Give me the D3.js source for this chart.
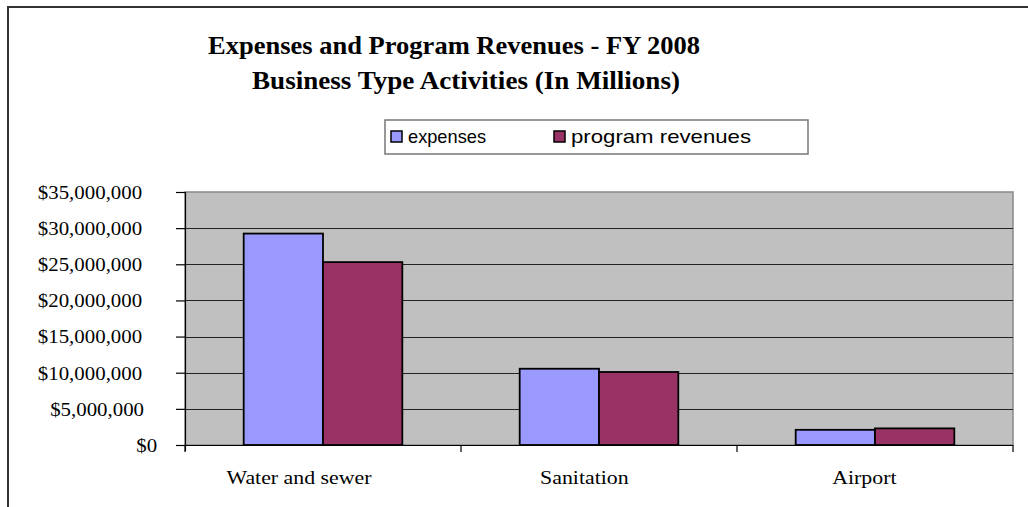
<!DOCTYPE html>
<html><head><meta charset="utf-8">
<script src="https://cdn.jsdelivr.net/npm/d3@7"></script>
<style>html,body{margin:0;padding:0;background:#fff;}svg{display:block;}</style>
</head><body>
<script>
const categories = ["Water and sewer", "Sanitation", "Airport"];
const seriesNames = ["expenses", "program revenues"];
const expenses = [29250000, 10550000, 2100000];
const programRevenues = [25300000, 10100000, 2300000];
const yTicks = [0, 5000000, 10000000, 15000000, 20000000, 25000000, 30000000, 35000000];
const titleLines = ["Expenses and Program Revenues - FY 2008", "Business Type Activities (In Millions)"];
const colors = ["#9999FF", "#993366"];

const W = 1028, H = 507;
const svg = d3.select("body").append("svg").attr("width", W).attr("height", H);

// outer chart border (extends past right/bottom edges)
svg.append("rect").attr("x", 8).attr("y", 7).attr("width", 1040).attr("height", 520)
  .attr("fill", "#fff").attr("stroke", "#333").attr("stroke-width", 2);

const plot = {left: 185, right: 1013, top: 192, bottom: 445};

// title
const tpos = [{x: 208, y: 54, len: 492}, {x: 252, y: 89, len: 428}];
titleLines.forEach((t, i) => {
  svg.append("text").attr("x", tpos[i].x).attr("y", tpos[i].y)
    .attr("textLength", tpos[i].len).attr("lengthAdjust", "spacingAndGlyphs")
    .attr("font-family", "Liberation Serif, Times New Roman, serif")
    .attr("font-weight", "bold").attr("font-size", 24.5).text(t);
});

// legend
const leg = svg.append("g");
leg.append("rect").attr("x", 385).attr("y", 120).attr("width", 423).attr("height", 34)
  .attr("fill", "#fff").attr("stroke", "#777").attr("stroke-width", 1.5);
const legItems = [{x: 391, tx: 408, tl: 78}, {x: 554, tx: 571, tl: 180}];
seriesNames.forEach((s, i) => {
  leg.append("rect").attr("x", legItems[i].x).attr("y", 131).attr("width", 11).attr("height", 11)
    .attr("fill", colors[i]).attr("stroke", "#000").attr("stroke-width", 1.5);
  leg.append("text").attr("x", legItems[i].tx).attr("y", 143)
    .attr("textLength", legItems[i].tl).attr("lengthAdjust", "spacingAndGlyphs")
    .attr("font-family", "Liberation Sans, Arial, sans-serif").attr("font-size", 19).text(s);
});

// scales
const x0 = d3.scaleBand().domain(categories).range([plot.left, plot.right]).padding(0);
const x1 = d3.scaleBand().domain(seriesNames).range([0, x0.bandwidth()]).paddingInner(0).paddingOuter(0.74);
const y = d3.scaleLinear().domain([0, 35000000]).range([plot.bottom, plot.top]);

// plot background
svg.append("rect").attr("x", plot.left).attr("y", plot.top)
  .attr("width", plot.right - plot.left).attr("height", plot.bottom - plot.top)
  .attr("fill", "#C0C0C0").attr("stroke", "#888").attr("stroke-width", 1.5);

// gridlines
svg.append("g").selectAll("line").data(yTicks.filter(d => d > 0 && d < 35000000)).join("line")
  .attr("x1", plot.left).attr("x2", plot.right)
  .attr("y1", d => Math.round(y(d)) + 0.5).attr("y2", d => Math.round(y(d)) + 0.5)
  .attr("stroke", "#222").attr("stroke-width", 1.2);

// bars
const data = categories.map((c, i) => ({cat: c, vals: [
  {s: seriesNames[0], v: expenses[i], c: colors[0]},
  {s: seriesNames[1], v: programRevenues[i], c: colors[1]}]}));
const groups = svg.append("g").selectAll("g").data(data).join("g")
  .attr("transform", d => `translate(${x0(d.cat)},0)`);
groups.selectAll("rect").data(d => d.vals).join("rect")
  .attr("x", d => x1(d.s)).attr("width", x1.bandwidth())
  .attr("y", d => y(d.v)).attr("height", d => y(0) - y(d.v))
  .attr("fill", d => d.c).attr("stroke", "#000").attr("stroke-width", 1.8);

// y axis
const fmt = d => "$" + d3.format(",")(d);
const yAxis = svg.append("g").attr("transform", `translate(${plot.left},0)`)
  .call(d3.axisLeft(y).tickValues(yTicks).tickFormat(fmt).tickSize(9).tickPadding(0).tickSizeOuter(0));
yAxis.select(".domain").attr("stroke", "#000").attr("stroke-width", 1.2).attr("d", `M0.5,${plot.top}V${plot.bottom + 6}`);
yAxis.selectAll(".tick line").attr("stroke", "#000").attr("stroke-width", 1.2);
const ySx = 1.16;
yAxis.selectAll(".tick text")
  .attr("font-family", "Liberation Serif, Times New Roman, serif").attr("font-size", 18).attr("fill", "#000")
  .attr("text-anchor", "start").attr("x", 0).attr("dy", "0.35em")
  .each(function() {
    const w = this.getComputedTextLength() * ySx;
    const startAbs = 161 - 1.18 * w;
    d3.select(this).attr("transform", `translate(${startAbs - plot.left},0) scale(${ySx},1)`);
  });

// x axis
const xAxis = svg.append("g").attr("transform", `translate(0,${plot.bottom})`);
xAxis.append("line").attr("x1", plot.left).attr("x2", plot.right).attr("y1", 0.5).attr("y2", 0.5)
  .attr("stroke", "#000").attr("stroke-width", 1.2);
const boundaries = categories.map(c => x0(c)).concat([plot.right]);
xAxis.selectAll("line.tk").data(boundaries).join("line").attr("class", "tk")
  .attr("x1", d => d).attr("x2", d => d).attr("y1", 0).attr("y2", 7)
  .attr("stroke", "#000").attr("stroke-width", 1.2);
const xSx = 1.15;
xAxis.selectAll("text").data(categories).join("text")
  .attr("text-anchor", "start")
  .attr("font-family", "Liberation Serif, Times New Roman, serif").attr("font-size", 19).text(d => d)
  .each(function(d) {
    const w = this.getComputedTextLength() * xSx;
    const startAbs = x0(d) + x0.bandwidth() / 2 - 0.665 * w;
    d3.select(this).attr("transform", `translate(${startAbs},39) scale(${xSx},1)`);
  });
</script>
</body></html>
